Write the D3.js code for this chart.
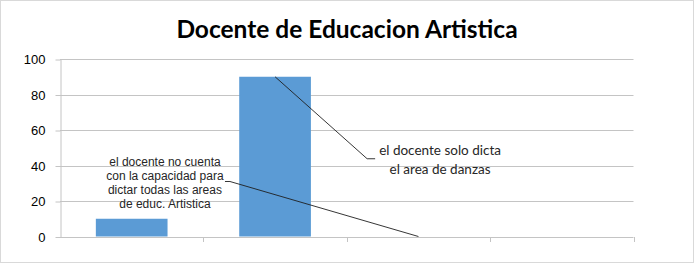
<!DOCTYPE html>
<html>
<head>
<meta charset="utf-8">
<script src="https://cdn.jsdelivr.net/npm/d3@7"></script>
<style>
  body { margin: 0; background: #fff; }
  svg { display: block; }
</style>
</head>
<body>
<svg id="chart" width="697" height="264"></svg>
<script>
// chart data
const title = 'Docente de Educacion Artistica';
const categories = ['1', '2', '3', '4'];
const values = [10, 90, 0, 0];
const yTicks = [0, 20, 40, 60, 80, 100];

// data labels (category -> lines of text)
const labelCategories = ['2', '3'];
const labelLines = [
    ['el docente solo dicta', 'el area de danzas'],
    ['el docente no cuenta', 'con la capacidad para', 'dictar todas las areas', 'de educ. Artistica'],
];

const width = 697;
const height = 264;
const margin = { top: 59, left: 60, bottom: 27.5, right: 63.5 };

const svg = d3.select('#chart');

// outer frame
svg.append('rect')
    .attr('x', 0.5).attr('y', 0.5)
    .attr('width', 693).attr('height', 262)
    .attr('fill', '#fff')
    .attr('stroke', '#d9d9d9');

const x = d3.scaleBand()
    .domain(categories)
    .range([margin.left, width - margin.right])
    .paddingInner(0.5)
    .paddingOuter(0.25);

const y = d3.scaleLinear()
    .domain([0, 100])
    .range([height - margin.bottom, margin.top]);

// title
svg.append('text')
    .attr('x', 347)
    .attr('y', 38)
    .attr('text-anchor', 'middle')
    .attr('font-family', 'Lato, "Open Sans", sans-serif')
    .attr('font-weight', 700)
    .attr('font-size', 24.5)
    .attr('fill', '#000')
    .text(title);

// gridlines
svg.append('g')
    .selectAll('line')
    .data(yTicks.filter(d => d > 0))
    .join('line')
    .attr('x1', margin.left)
    .attr('x2', width - margin.right)
    .attr('y1', d => Math.round(y(d)) + 0.5)
    .attr('y2', d => Math.round(y(d)) + 0.5)
    .attr('stroke', '#c4c4c4');

// y axis
const yAxis = svg.append('g')
    .attr('transform', `translate(${margin.left + 0.5},0.5)`)
    .call(d3.axisLeft(y).tickValues(yTicks).tickSize(5).tickPadding(10).tickSizeOuter(0));
yAxis.select('.domain').attr('stroke', '#c4c4c4');
yAxis.selectAll('.tick line').attr('stroke', '#c4c4c4');
yAxis.selectAll('.tick text')
    .attr('font-family', '"Liberation Sans", Arial, sans-serif')
    .attr('font-size', 13)
    .attr('fill', '#000');

// bars
svg.append('g')
    .selectAll('rect')
    .data(values)
    .join('rect')
    .attr('x', (d, i) => x(categories[i]))
    .attr('y', d => y(d))
    .attr('width', x.bandwidth())
    .attr('height', d => y(0) - y(d))
    .attr('fill', '#5b9bd5');

// x axis (no labels, ticks at category boundaries)
const x0 = y(0);
const bounds = categories.map(c => x(c) - x.step() * 0.25).concat([width - margin.right]);
svg.append('line')
    .attr('x1', margin.left).attr('x2', width - margin.right)
    .attr('y1', Math.round(x0) + 0.5).attr('y2', Math.round(x0) + 0.5)
    .attr('stroke', '#c4c4c4');
svg.append('g')
    .selectAll('line')
    .data(bounds.slice(1))
    .join('line')
    .attr('x1', d => Math.round(d) + 0.5).attr('x2', d => Math.round(d) + 0.5)
    .attr('y1', Math.round(x0)).attr('y2', Math.round(x0) + 5)
    .attr('stroke', '#c4c4c4');

// data labels with leader lines
const labelStyle = [
    { dx: 165, dy: 83, font: 'Lato, "Open Sans", sans-serif', size: 13.5, lh: 18.3, elbow: 'left' },
    { dx: -253.5, dy: -54, font: '"Liberation Sans", Arial, sans-serif', size: 12, lh: 13.9, elbow: 'right' },
];

labelCategories.forEach((c, i) => {
    const v = values[categories.indexOf(c)];
    const ax = x(c) + x.bandwidth() / 2;
    const ay = y(v);
    const st = labelStyle[i];
    const lines = labelLines[i];
    const cx = ax + st.dx;
    const cy = ay + st.dy;

    const g = svg.append('g');
    const top = cy - (lines.length - 1) * st.lh / 2;
    const t = g.append('text')
        .attr('text-anchor', 'middle')
        .attr('font-family', st.font)
        .attr('font-size', st.size)
        .attr('fill', '#262626');
    lines.forEach((l, k) => {
        t.append('tspan')
            .attr('x', cx)
            .attr('y', top + k * st.lh)
            .attr('dy', '0.35em')
            .text(l);
    });

    // leader line: anchor -> elbow -> label edge
    const bbox = t.node().getBBox();
    let pts;
    if (st.elbow === 'left') {
        const ey = cy - 1;
        const ex = bbox.x - 4;
        pts = [[ax, ay], [ex - 8, ey], [ex, ey]];
    } else {
        const ey = cy - 1;
        const ex = bbox.x + bbox.width + 1;
        pts = [[ax, ay], [ex + 5, ey], [ex, ey]];
    }
    g.append('path')
        .attr('d', d3.line()(pts))
        .attr('fill', 'none')
        .attr('stroke', '#1f1f1f')
        .attr('stroke-width', 0.9);
});
</script>
</body>
</html>
